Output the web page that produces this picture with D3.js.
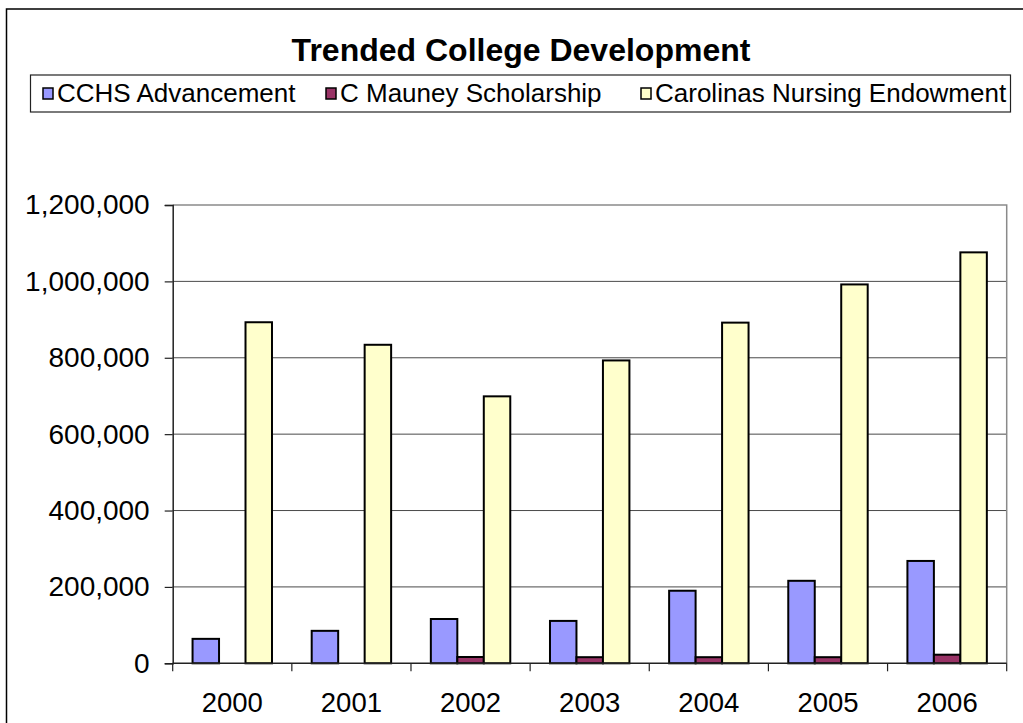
<!DOCTYPE html>
<html>
<head>
<meta charset="utf-8">
<script src="https://cdn.jsdelivr.net/npm/d3@7"></script>
<style>
  html, body { margin: 0; padding: 0; background: #fff; }
  svg { display: block; }
  text { font-family: "Liberation Sans", Arial, sans-serif; fill: #000; }
</style>
</head>
<body>
<svg id="chart" width="1023" height="723"></svg>
<script>
// Yearly totals by fund
const years = ["2000", "2001", "2002", "2003", "2004", "2005", "2006"];
const seriesNames = ["CCHS Advancement", "C Mauney Scholarship", "Carolinas Nursing Endowment"];
const cchsAdvancement = [64000, 85000, 116000, 111000, 190000, 216000, 268000];
const cMauneyScholarship = [0, 0, 16500, 16000, 16000, 16000, 22500];
const nursingEndowment = [893000, 834000, 699000, 793000, 892000, 992000, 1076000];
const yTicks = [0, 200000, 400000, 600000, 800000, 1000000, 1200000];
const seriesColors = ["#9999FF", "#993366", "#FFFFCC"];

const seriesValues = [cchsAdvancement, cMauneyScholarship, nursingEndowment];
const rows = years.map((yr, i) => ({
  year: yr,
  values: seriesNames.map((name, s) => ({ name, s, value: seriesValues[s][i] }))
}));

const svg = d3.select("#chart");

// Chart frame
svg.append("rect")
  .attr("x", 6.5).attr("y", 9).attr("width", 1040).attr("height", 740)
  .attr("fill", "#fff").attr("stroke", "#000").attr("stroke-width", 1.5);

// Title
svg.append("text")
  .attr("x", 521).attr("y", 61)
  .attr("text-anchor", "middle")
  .style("font-size", "32px").style("font-weight", "bold")
  .text("Trended College Development");

// Plot area
const plot = { left: 172.7, right: 1006.7, top: 205, bottom: 663.3 };

const x0 = d3.scaleBand().domain(years).range([plot.left, plot.right]).padding(0);
const bw = x0.bandwidth();
// gap width of 150% of a bar between clusters
const barW = bw / (seriesNames.length + 1.5);
const x1 = d3.scaleBand().domain(d3.range(seriesNames.length))
  .range([0.75 * barW, bw - 0.75 * barW]).padding(0);

const y = d3.scaleLinear().domain([0, 1200000]).range([plot.bottom, plot.top]);

// Gridlines
svg.append("g")
  .selectAll("line").data(yTicks.slice(1, -1)).join("line")
  .attr("x1", plot.left).attr("x2", plot.right)
  .attr("y1", d => y(d)).attr("y2", d => y(d))
  .attr("stroke", "#4a4a4a").attr("stroke-width", 1);

// Plot border (top and right)
svg.append("path")
  .attr("d", `M${plot.left},${y(1200000)}H${plot.right}V${plot.bottom}`)
  .attr("fill", "none").attr("stroke", "#8a8a8a").attr("stroke-width", 1.5);

// Bars
svg.append("g")
  .selectAll("g").data(rows).join("g")
  .attr("transform", d => `translate(${x0(d.year)},0)`)
  .selectAll("rect").data(d => d.values.filter(v => v.value > 0)).join("rect")
  .attr("x", d => x1(d.s))
  .attr("width", x1.bandwidth())
  .attr("y", d => y(d.value))
  .attr("height", d => y(0) - y(d.value))
  .attr("fill", d => seriesColors[d.s])
  .attr("stroke", "#000").attr("stroke-width", 2);

// Y axis
const yAxis = svg.append("g")
  .attr("transform", `translate(${plot.left},0)`)
  .call(d3.axisLeft(y).tickValues(yTicks).tickFormat(d3.format(",")).tickSize(8).tickPadding(15));
yAxis.select(".domain").attr("stroke", "#222").attr("stroke-width", 1.5);
yAxis.selectAll(".tick line").attr("stroke", "#222").attr("stroke-width", 1.2);
yAxis.selectAll("text").style("font-size", "28px").style("font-family", "'Liberation Sans', Arial, sans-serif").attr("fill", "#000");

// X axis with ticks at cluster boundaries
const xAxisG = svg.append("g").attr("transform", `translate(0,${plot.bottom})`);
xAxisG.append("line")
  .attr("x1", plot.left).attr("x2", plot.right)
  .attr("stroke", "#222").attr("stroke-width", 1.5);
const boundaries = years.map(yr => x0(yr)).concat([x0(years[years.length - 1]) + bw]);
xAxisG.selectAll(".xt").data(boundaries).join("line")
  .attr("class", "xt")
  .attr("x1", d => d).attr("x2", d => d)
  .attr("y1", 0).attr("y2", 8)
  .attr("stroke", "#222").attr("stroke-width", 1.2);
xAxisG.selectAll(".xl").data(years).join("text")
  .attr("class", "xl")
  .attr("x", d => x0(d) + bw / 2).attr("y", 49)
  .attr("text-anchor", "middle")
  .style("font-size", "27.5px")
  .text(d => d);

// Legend
const legend = svg.append("g");
legend.append("rect")
  .attr("x", 30.5).attr("y", 75).attr("width", 980).attr("height", 37)
  .attr("fill", "#fff").attr("stroke", "#222").attr("stroke-width", 1.2);
const legendX = [43, 326, 641];
const items = legend.selectAll("g.item").data(seriesNames).join("g")
  .attr("class", "item")
  .attr("transform", (d, i) => `translate(${legendX[i]},93)`);
items.append("rect")
  .attr("x", 0).attr("y", -5).attr("width", 10).attr("height", 11)
  .attr("fill", (d, i) => seriesColors[i])
  .attr("stroke", "#000").attr("stroke-width", 1.5);
items.append("text")
  .attr("x", 14).attr("y", 9)
  .style("font-size", "26px")
  .text(d => d);
</script>
</body>
</html>
